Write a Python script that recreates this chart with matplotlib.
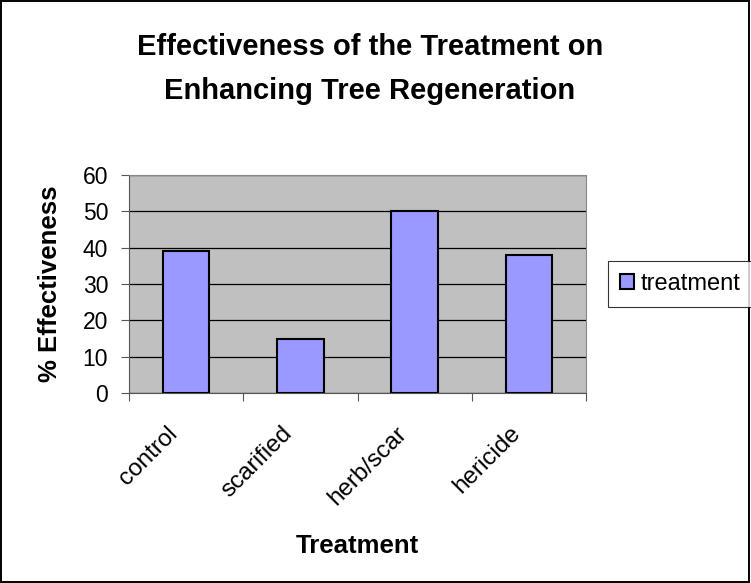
import numpy as np
import matplotlib
matplotlib.use('Agg')
import matplotlib.pyplot as plt
from matplotlib.patches import Rectangle

plt.rcParams['font.family'] = ['Liberation Sans', 'DejaVu Sans']

categories = ['control', 'scarified', 'herb/scar', 'hericide']
values = [39, 15, 50, 38]
yticks = [0, 10, 20, 30, 40, 50, 60]

fig = plt.figure(figsize=(7.51, 5.83), dpi=100)
fig.patches.append(Rectangle((0.001, 0.001), 0.997, 0.997, transform=fig.transFigure,
                             fill=False, edgecolor='black', linewidth=1.4))

ax = fig.add_axes([129/751, 1 - 393/583, (586 - 129)/751, (393 - 175)/583])
ax.set_facecolor('#c0c0c0')
x = np.arange(len(categories)) + 0.5
bars = ax.bar(x, values, width=0.405, color='#9999ff', edgecolor='black',
              linewidth=1.5, label='treatment', zorder=3)
ax.set_xlim(0, len(categories))
ax.set_ylim(0, 60)
ax.set_yticks(yticks)
ax.set_yticklabels([str(t) for t in yticks], fontsize=16.5)
ax.yaxis.grid(True, color='black', linewidth=0.9, zorder=1)
ax.set_axisbelow(True)

# category boundaries get the tick marks, names sit slightly left of centre
ax.set_xticks(np.arange(len(categories) + 1))
ax.set_xticklabels([])
ax.set_xticks(x - 0.17, minor=True)
ax.set_xticklabels(categories, minor=True, rotation=45, ha='right',
                   rotation_mode='anchor', fontsize=17.5)
ax.tick_params(axis='x', which='minor', length=0, pad=21)
ax.tick_params(axis='x', which='major', direction='out', length=6, color='#555555')
ax.tick_params(axis='y', direction='out', length=6, color='#555555', pad=9)

for s in ['top', 'right']:
    ax.spines[s].set_color('#888888')
ax.spines['left'].set_color('#555555')
ax.spines['bottom'].set_color('#555555')

ax.set_xlabel('Treatment', fontsize=18.5, fontweight='bold', va='top')
ax.xaxis.set_label_coords(0.5, -(534 - 393)/218)
ax.set_ylabel('% Effectiveness', fontsize=18.5, fontweight='bold')
ax.yaxis.set_label_coords(-(129 - 62)/457, 0.5)

fig.text(370/751, 1 - 69/583, 'Effectiveness of the Treatment on\nEnhancing Tree Regeneration',
         ha='center', va='center', fontsize=21, fontweight='bold', linespacing=1.72)

leg = fig.legend(handles=[bars], labels=['treatment'], loc='center left',
                 bbox_to_anchor=(608/751, 1 - 284/583), fontsize=17,
                 frameon=True, fancybox=False, edgecolor='black',
                 handlelength=0.6, handleheight=0.6, handletextpad=0.3,
                 borderpad=0.5, borderaxespad=0)
leg.get_frame().set_linewidth(0.8)

fig.savefig('out.png', dpi=100)
